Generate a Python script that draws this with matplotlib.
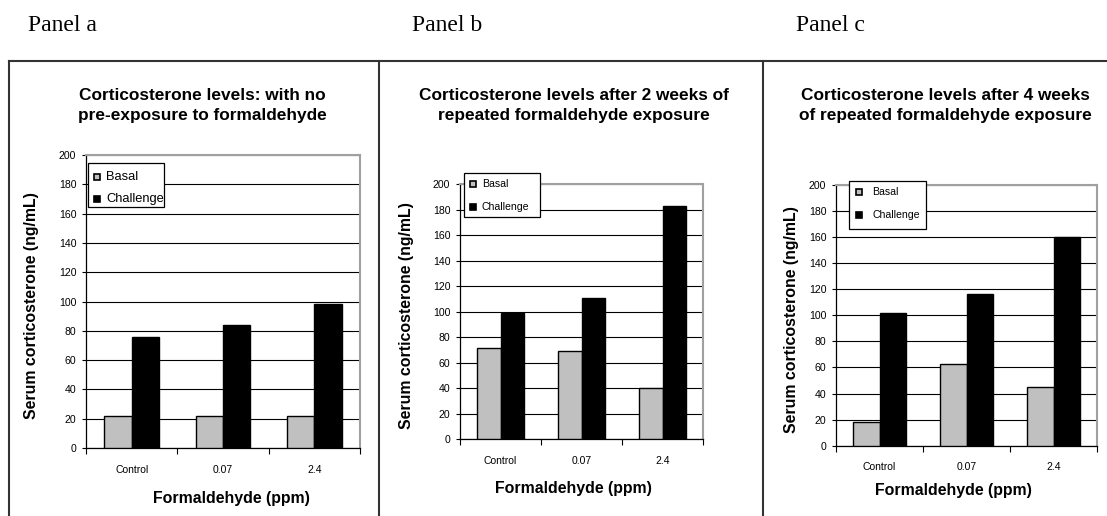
import numpy as np
import matplotlib
matplotlib.use('Agg')
import matplotlib.pyplot as plt
from matplotlib.patches import Rectangle
from matplotlib.lines import Line2D

plt.rcParams['font.family'] = ['Liberation Sans', 'DejaVu Sans']

categories = ['Control', '0.07', '2.4']
series_names = ['Basal', 'Challenge']

# panel a: no pre-exposure
basal_a = [22, 22, 22]
challenge_a = [76, 84, 98]
# panel b: 2 weeks repeated exposure
basal_b = [72, 69, 40]
challenge_b = [99, 111, 183]
# panel c: 4 weeks repeated exposure
basal_c = [18, 63, 45]
challenge_c = [102, 116, 160]

titles = ['Corticosterone levels: with no\npre-exposure to formaldehyde',
          'Corticosterone levels after 2 weeks of\nrepeated formaldehyde exposure',
          'Corticosterone levels after 4 weeks\nof repeated formaldehyde exposure']
panel_labels = ['Panel a', 'Panel b', 'Panel c']
yticks = np.arange(0, 201, 20)

W, H = 1107, 516
fig = plt.figure(figsize=(W / 100, H / 100), dpi=100)

def fx(x):
    return x / W

def fy(y):
    return 1 - y / H

# layout in pixels (from the reference)
panels = [
    dict(ax=(86, 360, 155, 448), bw=0.30, fs_leg=9.3,
         leg=(88, 164, 163, 207), mark_x=96.7, mark_y=(177, 199), text_x=106,
         title_x=202, ylab_x=32, xlab=(231, 498), label_x=28),
    dict(ax=(460, 703, 184.3, 439.3), bw=0.29, fs_leg=7.6,
         leg=(464, 540, 172.7, 216.7), mark_x=473.3, mark_y=(183.7, 206.7), text_x=482,
         title_x=574, ylab_x=406.7, xlab=(573, 488), label_x=411.7),
    dict(ax=(836, 1097, 185, 445.7), bw=0.30, fs_leg=7.6,
         leg=(849.3, 926, 181, 229), mark_x=858.7, mark_y=(191.7, 215), text_x=872.3,
         title_x=945.7, ylab_x=791.7, xlab=(953, 490), label_x=796),
]
data = [(basal_a, challenge_a), (basal_b, challenge_b), (basal_c, challenge_c)]

for i, p in enumerate(panels):
    x0, x1, yt, yb = p['ax']
    ax = fig.add_axes([fx(x0), fy(yb), (x1 - x0) / W, (yb - yt) / H])
    basal, challenge = data[i]
    x = np.arange(len(categories))
    bw = p['bw']
    ax.bar(x - bw / 2, basal, bw, color='#c0c0c0', edgecolor='black', linewidth=1.0, zorder=3)
    ax.bar(x + bw / 2, challenge, bw, color='black', edgecolor='black', linewidth=1.0, zorder=3)

    ax.set_xlim(-0.5, len(categories) - 0.5)
    ax.set_ylim(0, 200)
    ax.set_yticks(yticks)
    ax.yaxis.grid(True, color='black', linewidth=0.8, zorder=0)
    ax.set_axisbelow(True)
    ax.tick_params(axis='y', direction='out', length=3, width=0.8, pad=4, labelsize=7.6)

    ax.set_xticks(np.arange(len(categories) + 1) - 0.5)
    ax.set_xticklabels([])
    ax.set_xticks(x, minor=True)
    ax.set_xticklabels(categories, minor=True)
    ax.tick_params(axis='x', which='major', direction='out', length=4, width=0.8)
    ax.tick_params(axis='x', which='minor', length=0, pad=12, labelsize=7.5)

    for s in ['left', 'bottom']:
        ax.spines[s].set_color('black')
        ax.spines[s].set_linewidth(0.9)
    for s in ['top', 'right']:
        ax.spines[s].set_color('#a0a0a0')
        ax.spines[s].set_linewidth(1.5)

    # titles and axis labels
    fig.text(fx(p['title_x']), fy(105.5), titles[i], ha='center', va='center',
             fontsize=12.4, fontweight='bold', linespacing=1.38)
    fig.text(fx(p['ylab_x']), fy((yt + yb) / 2 + 4), 'Serum corticosterone (ng/mL)',
             rotation=90, ha='center', va='center', fontsize=11.4, fontweight='bold')
    fig.text(fx(p['xlab'][0]), fy(p['xlab'][1]), 'Formaldehyde (ppm)',
             ha='center', va='center', fontsize=11.4, fontweight='bold')
    fig.text(fx(p['label_x']), fy(31), panel_labels[i], ha='left', va='baseline',
             fontsize=17, family='Liberation Serif')

    # legend box
    lx0, lx1, ly0, ly1 = p['leg']
    fig.add_artist(Rectangle((fx(lx0), fy(ly1)), (lx1 - lx0) / W, (ly1 - ly0) / H,
                             transform=fig.transFigure, facecolor='white',
                             edgecolor='black', linewidth=0.9, zorder=5))
    fills = ['#c0c0c0', 'black']
    for name, my, fc in zip(series_names, p['mark_y'], fills):
        s = 6
        fig.add_artist(Rectangle((fx(p['mark_x'] - s / 2), fy(my + s / 2)), s / W, s / H,
                                 transform=fig.transFigure, facecolor=fc,
                                 edgecolor='black', linewidth=1.2, zorder=6))
        fig.text(fx(p['text_x']), fy(my), name, ha='left', va='center',
                 fontsize=p['fs_leg'], zorder=7)

# panel frame lines
frame_kw = dict(color='#333333', linewidth=1.5, transform=fig.transFigure)
fig.add_artist(Line2D([fx(9.3), 1], [fy(61), fy(61)], **frame_kw))
for xv in [9.3, 379, 763.3]:
    fig.add_artist(Line2D([fx(xv), fx(xv)], [fy(61), 0], **frame_kw))

fig.savefig('out.png', dpi=100)
